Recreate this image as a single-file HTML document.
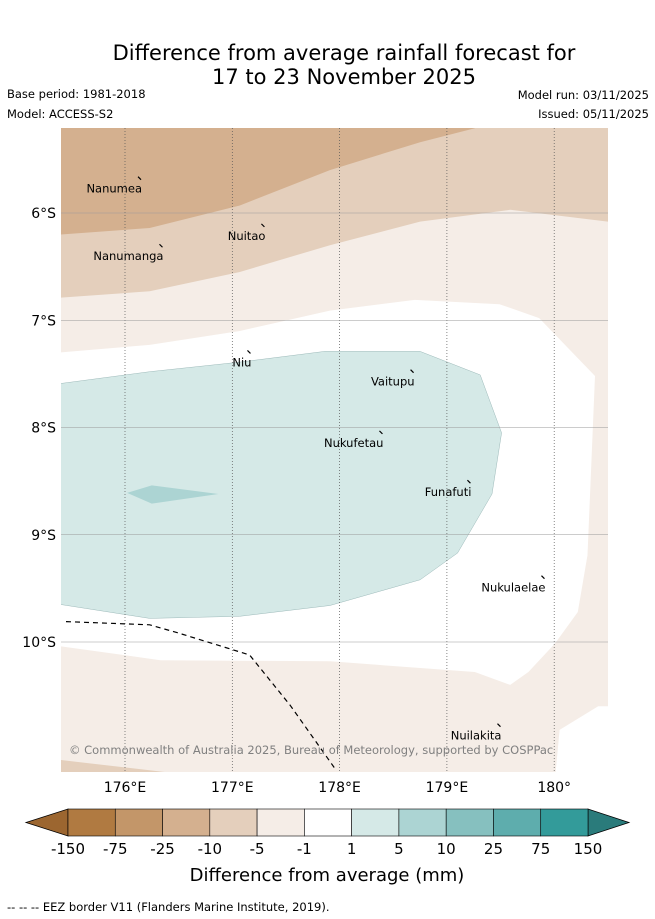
<!DOCTYPE html>
<html><head><meta charset="utf-8"><style>
body{margin:0;background:#fff;width:655px;height:919px;overflow:hidden;font-family:"Liberation Sans","DejaVu Sans",sans-serif}
svg{display:block}
</style></head><body>
<svg id="chart" width="655" height="919" xmlns="http://www.w3.org/2000/svg" font-family="DejaVu Sans, Liberation Sans, sans-serif">
<text x="344" y="60" font-size="21" text-anchor="middle">Difference from average rainfall forecast for</text>
<text x="344" y="84" font-size="21" text-anchor="middle">17 to 23 November 2025</text>
<text x="7" y="98" font-size="11.5">Base period: 1981-2018</text>
<text x="7" y="118" font-size="11.5">Model: ACCESS-S2</text>
<text x="649" y="99" font-size="11.5" text-anchor="end">Model run: 03/11/2025</text>
<text x="649" y="118" font-size="11.5" text-anchor="end">Issued: 05/11/2025</text>
<defs><clipPath id="mapclip"><rect x="61" y="128" width="547" height="644"/></clipPath></defs>
<g id="map" clip-path="url(#mapclip)"></g>
<g id="overlay"></g>
<g id="cbar"></g>
<text x="327" y="881" font-size="18" text-anchor="middle">Difference from average (mm)</text>
<text x="7" y="911" font-size="11.5">--  --  -- EEZ border V11 (Flanders Marine Institute, 2019).</text>
</svg>
<script>
const lonTicks=[176,177,178,179,180];
const latTicks=[-6,-7,-8,-9,-10];
const band1=[[175.40,-5.1],[179.26,-5.1],[179.26,-5.21],[178.75,-5.34],[177.91,-5.60],[177.07,-5.93],[176.23,-6.14],[175.40,-6.20]];
const band2=[[175.40,-5.1],[180.6,-5.1],[180.6,-6.08],[180.50,-6.08],[179.59,-5.97],[178.75,-6.08],[177.91,-6.30],[177.07,-6.55],[176.23,-6.73],[175.40,-6.79]];
const band2b=[[175.40,-11.10],[176.70,-11.25],[175.40,-11.25]];
const whiteZone=[[175.40,-7.30],[176.23,-7.23],[177.07,-7.10],[177.91,-6.91],[178.70,-6.81],[179.49,-6.85],[179.86,-6.98],[180.38,-7.52],[180.31,-9.19],[180.22,-9.72],[180.01,-10.01],[179.76,-10.28],[179.59,-10.40],[179.26,-10.28],[177.91,-10.18],[176.33,-10.17],[175.40,-10.04]];
const whiteZone2=[[180.05,-10.82],[180.41,-10.60],[180.6,-10.60],[180.6,-11.25],[180.01,-11.25]];
const tealZone=[[175.40,-7.59],[176.23,-7.48],[177.07,-7.39],[177.86,-7.29],[178.75,-7.29],[179.31,-7.51],[179.51,-8.05],[179.42,-8.62],[179.10,-9.17],[178.75,-9.42],[177.91,-9.66],[177.07,-9.76],[176.23,-9.78],[175.40,-9.65]];
const tealPatch=[[176.02,-8.61],[176.25,-8.54],[176.87,-8.62],[176.25,-8.71]];
const eez=[[175.45,-9.81],[176.23,-9.84],[176.51,-9.92],[177.16,-10.12],[177.54,-10.59],[177.95,-11.17]];
const islands=["Nanumea","Nuitao","Nanumanga","Niu","Vaitupu","Nukufetau","Funafuti","Nukulaelae","Nuilakita"];
const islandLon=[176.14,177.29,176.34,177.16,178.68,178.39,179.21,179.90,179.49];
const islandLat=[-5.68,-6.12,-6.31,-7.30,-7.48,-8.05,-8.51,-9.40,-10.78];
const cbLabels=["-150","-75","-25","-10","-5","-1","1","5","10","25","75","150"];
const cbColors=["#b07a41","#c39669","#d4b08f","#e4cfbc","#f5ede7","#ffffff","#d5e9e7","#acd4d3","#86c0bf","#5eadad","#339b9a"];
const NS="http://www.w3.org/2000/svg";
const X=lon=>125+(lon-176)*107.3;
const Y=lat=>213+(-6-lat)*107.25;
function mk(t,a,p){const e=document.createElementNS(NS,t);for(const k in a)e.setAttribute(k,a[k]);p.appendChild(e);return e;}
const map=document.getElementById('map');
const pts=arr=>arr.map(p=>X(p[0]).toFixed(1)+','+Y(p[1]).toFixed(1)).join(' ');
let bg=mk('rect',{x:61,y:128,width:547,height:644,fill:'#f5ede7'},map);


function poly(arr,fill,name,stroke){const e=mk('polygon',{points:pts(arr),fill:fill,stroke:stroke||'none','stroke-width':0.4},map);

}
poly(band2,'#e4cfbc','contour-minus5-to-minus10');
poly(band1,'#d4b08f','contour-minus10-to-minus25');
poly(band2b,'#e4cfbc','contour-minus5-bottom');
poly(whiteZone,'#ffffff','contour-neutral');
poly(whiteZone2,'#ffffff','contour-neutral-se');
poly(tealZone,'#d5e9e7','contour-1-to-5','#8aa');
poly(tealPatch,'#acd4d3','contour-5-to-10');
lonTicks.forEach(l=>{const e=mk('line',{x1:X(l),x2:X(l),y1:128,y2:772,stroke:'#555','stroke-width':0.7,'stroke-dasharray':'1,2'},map);


const t=mk('text',{x:X(l),y:792,'font-size':14,'text-anchor':'middle'},document.getElementById('overlay'));t.textContent=l+'°'+(l<180?'E':'');

});
latTicks.forEach(l=>{const e=mk('line',{x1:61,x2:608,y1:Y(l),y2:Y(l),stroke:'#999','stroke-width':0.6},map);


const t=mk('text',{x:56,y:Y(l)+5,'font-size':14,'text-anchor':'end'},document.getElementById('overlay'));t.textContent=(-l)+'°S';

});
const ez=mk('polyline',{points:pts(eez),fill:'none',stroke:'#000','stroke-width':1.2,'stroke-dasharray':'5,4'},map);


islands.forEach((n,i)=>{const x=X(islandLon[i]),y=Y(islandLat[i]);
const m=mk('path',{d:`M${x-2},${y-2} l3,3`,stroke:'#000','stroke-width':1.2},map);


const t=mk('text',{x:x+2,y:y+14,'font-size':11.5,'text-anchor':'end'},map);t.textContent=n;

});
const cp=mk('text',{x:69,y:754,'font-size':11.5,fill:'#808080'},map);cp.textContent='© Commonwealth of Australia 2025, Bureau of Meteorology, supported by COSPPac';


const cb=document.getElementById('cbar');
const x0=68,x1=588,w=(x1-x0)/cbColors.length,y0=809,h=27;
const l=mk('polygon',{points:`${x0},${y0} ${x0},${y0+h} 26,${y0+h/2}`,fill:'#9c6630',stroke:'#000','stroke-width':0.8},cb);


const r=mk('polygon',{points:`${x1},${y0} ${x1},${y0+h} 629,${y0+h/2}`,fill:'#2a7b7b',stroke:'#000','stroke-width':0.8},cb);


cbColors.forEach((c,i)=>{const e=mk('rect',{x:x0+i*w,y:y0,width:w,height:h,fill:c,stroke:'#000','stroke-width':0.6},cb);

});
cbLabels.forEach((s,i)=>{const t=mk('text',{x:x0+i*w,y:854,'font-size':15,'text-anchor':'middle'},cb);t.textContent=s;

});
</script>
</body></html>
